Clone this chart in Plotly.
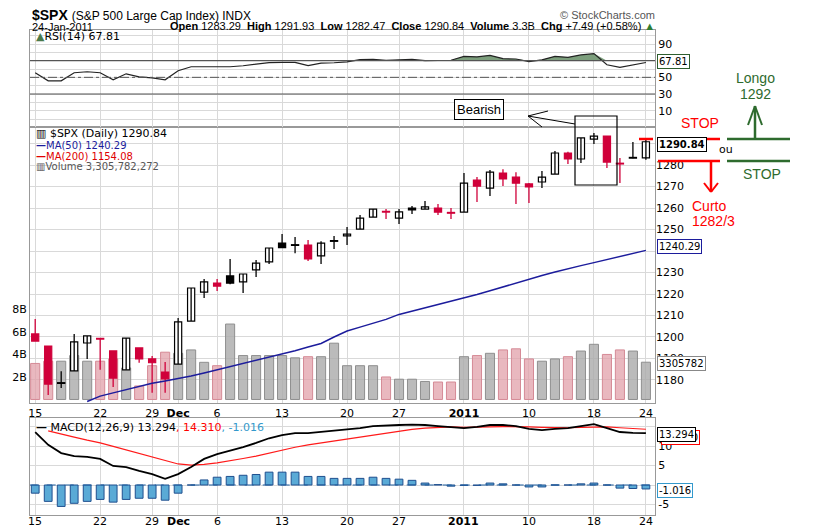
import plotly.graph_objects as go

# trading days, Nov 15 2010 .. Jan 24 2011 (index positions on the x axis)
dates = ["2010-11-15", "2010-11-16", "2010-11-17", "2010-11-18", "2010-11-19",
         "2010-11-22", "2010-11-23", "2010-11-24", "2010-11-26", "2010-11-29",
         "2010-11-30", "2010-12-01", "2010-12-02", "2010-12-03", "2010-12-06",
         "2010-12-07", "2010-12-08", "2010-12-09", "2010-12-10", "2010-12-13",
         "2010-12-14", "2010-12-15", "2010-12-16", "2010-12-17", "2010-12-20",
         "2010-12-21", "2010-12-22", "2010-12-23", "2010-12-27", "2010-12-28",
         "2010-12-29", "2010-12-30", "2010-12-31", "2011-01-03", "2011-01-04",
         "2011-01-05", "2011-01-06", "2011-01-07", "2011-01-10", "2011-01-11",
         "2011-01-12", "2011-01-13", "2011-01-14", "2011-01-18", "2011-01-19",
         "2011-01-20", "2011-01-21", "2011-01-24"]

opens = [1201.4, 1195.8, 1178.4, 1184.2, 1197.2, 1199.3, 1193.5, 1184.7, 1194.9, 1189.8,
         1183.7, 1187.4, 1207.4, 1220.9, 1225.1, 1228.4, 1225.6, 1231.2, 1234.9, 1243.7,
         1242.6, 1242.8, 1237.7, 1244.5, 1247.0, 1250.2, 1255.8, 1258.3, 1255.3, 1260.0,
         1259.5, 1260.0, 1257.8, 1258.1, 1273.0, 1269.3, 1276.3, 1274.4, 1271.2, 1272.1,
         1275.8, 1285.6, 1282.8, 1292.1, 1293.5, 1280.6, 1283.2, 1283.29]
highs = [1208.4, 1195.8, 1184.0, 1201.4, 1200.5, 1199.3, 1193.5, 1199.5, 1194.9, 1191.2,
         1188.4, 1208.8, 1222.8, 1227.0, 1227.0, 1236.3, 1229.3, 1235.8, 1241.4, 1247.9,
         1246.5, 1245.1, 1244.5, 1247.0, 1251.2, 1256.7, 1259.5, 1259.5, 1259.5, 1261.0,
         1263.3, 1261.9, 1260.0, 1276.3, 1274.4, 1277.7, 1278.1, 1276.7, 1271.6, 1277.2,
         1286.5, 1286.2, 1292.6, 1294.9, 1293.5, 1283.3, 1290.7, 1291.93]
lows = [1198.1, 1173.0, 1176.3, 1184.2, 1189.8, 1184.7, 1176.7, 1184.7, 1188.0, 1174.0,
        1174.0, 1187.4, 1207.4, 1218.1, 1221.4, 1224.5, 1220.5, 1227.9, 1234.0, 1241.4,
        1239.0, 1235.3, 1234.0, 1240.9, 1242.8, 1250.2, 1255.8, 1254.9, 1252.6, 1257.2,
        1259.5, 1256.7, 1254.9, 1258.1, 1262.8, 1265.6, 1270.2, 1261.9, 1262.3, 1269.3,
        1275.8, 1280.5, 1280.9, 1289.8, 1278.6, 1271.6, 1283.2, 1282.47]
closes = [1198.1, 1178.1, 1178.6, 1197.7, 1200.5, 1199.0, 1180.9, 1199.5, 1189.8, 1188.0,
          1180.5, 1207.0, 1222.8, 1225.6, 1223.7, 1225.1, 1229.3, 1234.4, 1241.4, 1241.6,
          1242.8, 1236.3, 1243.7, 1244.7, 1247.9, 1255.3, 1259.5, 1258.1, 1258.2, 1259.1,
          1260.5, 1258.1, 1257.6, 1271.6, 1270.2, 1276.7, 1273.5, 1271.6, 1269.8, 1274.4,
          1285.6, 1282.8, 1292.6, 1293.5, 1281.4, 1280.5, 1283.35, 1290.84]
volume_b = [3.2, 3.4, 3.4, 3.9, 3.4, 3.4, 3.6, 2.8, 1.2, 3.0,
            4.2, 4.1, 4.4, 3.3, 3.0, 6.7, 3.9, 3.9, 3.9, 3.9,
            3.7, 3.8, 3.8, 5.0, 3.0, 3.0, 3.0, 2.0, 1.8, 1.8,
            1.6, 1.55, 1.55, 3.8, 3.9, 4.1, 4.4, 4.5, 3.6, 3.4,
            3.6, 3.8, 4.3, 4.9, 4.0, 4.4, 4.3, 3.31]
ma50 = [None, None, None, None, 1170.0, 1172.5, 1174.0, 1175.5, 1177.0, 1178.5,
        1179.5, 1180.5, 1181.8, 1183.2, 1184.7, 1186.2, 1187.6, 1189.0, 1190.4, 1192.0,
        1193.6, 1195.3, 1197.0, 1200.0, 1202.8, 1204.6, 1206.4, 1208.2, 1210.5, 1212.0,
        1213.6, 1215.0, 1216.5, 1218.0, 1219.8, 1221.5, 1223.3, 1225.0, 1227.0, 1228.6,
        1230.2, 1231.8, 1233.2, 1234.6, 1236.0, 1237.5, 1238.8, 1240.29]
rsi = [55.5, 45.8, 45.8, 55.5, 56.7, 55.5, 47.0, 54.2, 50.6, 49.4,
       47.0, 57.9, 62.7, 62.7, 62.7, 62.7, 63.9, 65.5, 67.6, 68.0,
       68.0, 64.0, 67.0, 67.5, 68.5, 71.2, 71.5, 70.5, 71.0, 71.5,
       70.0, 70.0, 70.5, 75.2, 74.5, 76.4, 72.4, 72.0, 68.8, 71.0,
       75.2, 74.0, 76.9, 78.5, 65.1, 61.9, 64.8, 67.81]
macd = [13.6, 10.3, 8.2, 7.4, 7.2, 6.7, 4.9, 4.6, 3.6, 2.8,
        1.6, 2.8, 4.6, 6.7, 7.9, 8.7, 9.7, 10.8, 12.0, 12.8,
        13.3, 13.3, 13.6, 14.0, 14.2, 14.6, 15.1, 15.3, 15.4, 15.5,
        15.4, 15.1, 14.8, 14.6, 14.9, 15.4, 15.4, 15.1, 14.4, 14.1,
        14.4, 14.6, 15.1, 15.6, 14.6, 13.6, 13.4, 13.294]
signal = [None, 13.9, 13.0, 12.3, 11.5, 10.8, 9.9, 9.0, 8.1, 7.2,
          6.2, 5.4, 5.1, 5.3, 5.7, 6.2, 6.8, 7.4, 8.2, 9.0,
          9.7, 10.3, 10.8, 11.3, 11.8, 12.3, 12.9, 13.4, 13.9, 14.3,
          14.6, 14.8, 14.9, 14.8, 14.8, 14.9, 15.0, 15.0, 14.9, 14.8,
          14.7, 14.7, 14.8, 14.9, 14.9, 14.7, 14.5, 14.31]
hist = [-2.1, -4.2, -5.5, -4.7, -4.2, -3.7, -4.4, -3.7, -3.4, -3.4,
        -3.9, -2.1, 0.0, 1.3, 2.0, 2.2, 2.5, 2.7, 3.3, 3.3,
        3.3, 2.2, 2.2, 1.7, 1.7, 1.7, 2.0, 1.7, 1.5, 1.2,
        0.5, 0.1, -0.3, -0.1, -0.1, 0.5, 0.3, 0.0, -0.5, -0.5,
        0.0, 0.0, 0.3, 0.5, 0.0, -0.8, -0.9, -1.016]

tick_idx = [0, 5, 9, 11, 14, 19, 24, 28, 33, 38, 43, 47]
tick_txt = ["15", "22", "29", "<b>Dec</b>", "6", "13", "20", "27", "<b>2011</b>", "10", "18", "24"]

n = len(dates)
x = list(range(n))
RED = "#d0003a"


def px(v):
    return (v - 30) / 625


def py(v):
    return (515 - v) / 485


# candle colours: red when close below previous close, filled when close below open
is_red = [closes[0] < opens[0]] + [closes[i] < closes[i - 1] for i in range(1, n)]
filled = [closes[i] < opens[i] for i in range(n)]
line_col = [RED if r else "black" for r in is_red]
fill_col = [(RED if is_red[i] else "black") if filled[i] else "white" for i in range(n)]
vol_col = ["rgba(226,160,170,0.75)" if r else "rgba(170,170,170,0.8)" for r in is_red]
vol_line = ["#d58a96" if r else "#8f8f8f" for r in is_red]

fig = go.Figure()

# volume (base axis, drawn behind)
fig.add_trace(go.Bar(x=x, y=volume_b, xaxis="x2", yaxis="y2", width=0.7,
                     marker=dict(color=vol_col, line=dict(color=vol_line, width=1))))

# wicks
for want, col in [(True, RED), (False, "black")]:
    wx, wy = [], []
    for i in range(n):
        if is_red[i] == want:
            wx += [i, i, None]
            wy += [lows[i], highs[i], None]
    fig.add_trace(go.Scatter(x=wx, y=wy, xaxis="x2", yaxis="y3", mode="lines",
                             line=dict(color=col, width=1.3), hoverinfo="skip"))

body_lo = [min(opens[i], closes[i]) for i in range(n)]
body_h = [max(abs(closes[i] - opens[i]), 0.35) for i in range(n)]
fig.add_trace(go.Bar(x=x, y=body_h, base=body_lo, xaxis="x2", yaxis="y3", width=0.55,
                     marker=dict(color=fill_col, line=dict(color=line_col, width=1.2))))
fig.add_trace(go.Scatter(x=x, y=ma50, xaxis="x2", yaxis="y3", mode="lines",
                         line=dict(color="#1c1c9c", width=1.5)))

# RSI with green fill above 70
fig.add_trace(go.Scatter(x=x, y=[70] * n, xaxis="x3", yaxis="y4", mode="lines",
                         line=dict(color="rgba(0,0,0,0)", width=0), hoverinfo="skip"))
fig.add_trace(go.Scatter(x=x, y=[max(v, 70) for v in rsi], xaxis="x3", yaxis="y4",
                         mode="lines", fill="tonexty", fillcolor="#7c9e7c",
                         line=dict(color="rgba(0,0,0,0)", width=0), hoverinfo="skip"))
fig.add_trace(go.Scatter(x=x, y=rsi, xaxis="x3", yaxis="y4", mode="lines",
                         line=dict(color="#222", width=1.2)))

# MACD
fig.add_trace(go.Scatter(x=[-0.5, n - 0.5], y=[0, 0], mode="lines",
                         line=dict(color="#1f5f9f", width=1.2, dash="dash"), hoverinfo="skip"))
fig.add_trace(go.Bar(x=x, y=hist, width=0.6,
                     marker=dict(color="#5aaad6", line=dict(color="#1f4f8f", width=1))))
fig.add_trace(go.Scatter(x=x, y=signal, mode="lines", line=dict(color="#ff1a1a", width=1.2)))
fig.add_trace(go.Scatter(x=x, y=macd, mode="lines", line=dict(color="black", width=1.8)))

grid = "#d9d9d9"
xcommon = dict(range=[-0.4, 47.7], tickvals=tick_idx, ticktext=tick_txt, showgrid=True,
               gridcolor=grid, showline=True, mirror=True, linecolor="#999",
               ticks="", zeroline=False,
               automargin=False, tickfont=dict(size=11, color="black"))
ycommon = dict(automargin=False, zeroline=False, tickfont=dict(size=11))
# the page sits 8px in from the window corner, so margins are 8px smaller top/left
fig.update_layout(
    width=813, height=530, showlegend=False, barmode="overlay",
    paper_bgcolor="white", plot_bgcolor="white",
    margin=dict(l=22, r=166, t=22, b=23, autoexpand=False),
    font=dict(family="DejaVu Sans", size=11, color="black"),
    xaxis=dict(**{**xcommon, "showticklabels": False}, anchor="y"),
    xaxis2=dict(**xcommon, anchor="y2", matches="x"),
    xaxis3=dict(**{**xcommon, "showticklabels": False}, anchor="y4", matches="x"),
    yaxis=dict(**ycommon, domain=[0, 0.2], range=[-7.7, 17.2], side="right",
               tickvals=[-5, 0, 5, 10, 15], ticktext=["-5", "", "5", "10", ""], gridcolor=grid,
               showline=True, mirror=True, linecolor="#999"),
    yaxis2=dict(**ycommon, domain=[0.231, 0.8], range=[-0.31, 24.2], side="left",
                tickvals=[2, 4, 6, 8], ticktext=["2B", "4B", "6B", "8B"], showgrid=False,
                showline=True, mirror=True, linecolor="#999"),
    yaxis3=dict(**ycommon, overlaying="y2", range=[1169.3, 1297.7], side="right",
                tickvals=list(range(1180, 1300, 10)),
                ticktext=[str(v) if v not in (1240, 1290) else "" for v in range(1180, 1300, 10)],
                gridcolor=grid),
    yaxis4=dict(**ycommon, domain=[0.8, 1], range=[-9.6, 106.8], side="right",
                tickvals=list(range(0, 101, 10)),
                ticktext=[str(v) if v in (10, 30, 50, 90) else "" for v in range(0, 101, 10)],
                gridcolor=grid, showline=True, mirror=True, linecolor="#999"),
)

# RSI reference lines
fig.add_shape(type="line", xref="x3", yref="y4", x0=-0.4, x1=47.7, y0=70, y1=70,
              line=dict(color="#555", width=1.2))
fig.add_shape(type="line", xref="x3", yref="y4", x0=-0.4, x1=47.7, y0=30, y1=30,
              line=dict(color="#555", width=1.2))
fig.add_shape(type="line", xref="x3", yref="y4", x0=-0.4, x1=47.7, y0=50, y1=50,
              line=dict(color="#555", width=1, dash="dashdot"))

ann = []

# bottom date labels, placed closer to the panel than plotly's own tick labels
for i, t in zip(tick_idx, tick_txt):
    ann.append(dict(x=i, y=py(521), xref="x", yref="paper", text=t, showarrow=False,
                    xanchor="center", yanchor="middle", font=dict(size=11)))


def text(xp, yp, s, size=11, color="black", xa="left", fam=None, **kw):
    f = dict(size=size, color=color)
    if fam:
        f["family"] = fam
    ann.append(dict(x=px(xp), y=py(yp), xref="paper", yref="paper", text=s, showarrow=False,
                    xanchor=xa, yanchor="middle", font=f, **kw))


LS = "Liberation Sans"
text(30, 15, "<b>$SPX</b> <span style='font-size:12px'>(S&amp;P 500 Large Cap Index) INDX</span>",
     size=14, fam=LS)
text(30, 27, "24-Jan-2011", size=11, fam=LS)
text(657, 26, "<b>Open</b> 1283.29  <b>High</b> 1291.93  <b>Low</b> 1282.47  <b>Close</b> 1290.84  "
     "<b>Volume</b> 3.3B  <b>Chg</b> +7.49 (+0.58%) <span style='color:#2e7d32'>▲</span>",
     size=11, xa="right", fam=LS)
text(657, 15, "© StockCharts.com", size=11, color="#555", xa="right", fam=LS)
text(34, 37, "<span style='color:#4a7a4a'>▲</span>RSI(14) 67.81", size=11)
text(34, 133, "▥ $SPX (Daily) 1290.84", size=11)
text(34, 145, "<b>—</b>MA(50) 1240.29", size=10, color="#1c1c9c")
text(34, 156, "<b>—</b>MA(200) 1154.08", size=10, color="#e00000")
text(34, 166, "▥Volume 3,305,782,272", size=10, color="#555")
text(34, 427, "<b>—</b> MACD(12,26,9) 13.294<span style='color:red'>, 14.310</span>"
     "<span style='color:#3399cc'>, -1.016</span>", size=11)

# last-value boxes
text(657, 62, "67.81", size=10, bordercolor="#2e5e2e", bgcolor="white", borderpad=1)
text(657, 144, "<b>1290.84</b>", size=10, bordercolor="black", bgcolor="white", borderpad=1)
text(657, 247, "1240.29", size=10, bordercolor="#1c1c9c", bgcolor="white", borderpad=1)
text(657, 363, "3305782", size=10, bordercolor="#888", bgcolor="white", borderpad=1)
text(661, 437, "14.310", size=10, bordercolor="red", bgcolor="white", borderpad=1)
text(657, 434, "13.294", size=10, bordercolor="black", bgcolor="white", borderpad=1)
text(657, 490, "-1.016", size=10, bordercolor="#3399cc", bgcolor="white", borderpad=1)

# hand-drawn notes
text(479, 110, "Bearish", size=13, xa="center", bordercolor="black", bgcolor="white",
     borderpad=2, fam=LS)
text(700, 123, "STOP", size=14, color="red", xa="center", fam=LS)
text(690, 206, "Curto", size=14, color="red", xa="left", fam=LS)
text(690, 221, "1282/3", size=14, color="red", xa="left", fam=LS)
text(755, 78, "Longo", size=14, color="#2e6b2e", xa="center", fam=LS)
text(755, 94, "1292", size=14, color="#2e6b2e", xa="center", fam=LS)
text(726, 149, "ou", size=11, xa="center")
text(762, 174, "STOP", size=14, color="#2e6b2e", xa="center", fam=LS)
fig.update_layout(annotations=ann)


def seg(x0, y0, x1, y1, col, w=1.2):
    fig.add_shape(type="line", xref="paper", yref="paper", x0=px(x0), y0=py(y0),
                  x1=px(x1), y1=py(y1), line=dict(color=col, width=w))


seg(528, 116, 548, 111, "black", 1)
seg(528, 116, 542, 127, "black", 1)
seg(528, 116, 575, 124, "black", 1)
fig.add_shape(type="rect", xref="paper", yref="paper", x0=px(575), x1=px(617),
              y0=py(185), y1=py(116), line=dict(color="black", width=1.2))
seg(639, 139, 653, 139, "red", 2.5)
seg(700, 139, 720, 139, "red", 2.5)
seg(658, 161, 720, 161, "red", 2.5)
seg(711, 161, 711, 192, "red", 2.5)
seg(704, 183, 711, 192, "red", 2)
seg(718, 183, 711, 192, "red", 2)
seg(727, 139, 790, 139, "#2e6b2e", 2.5)
seg(727, 161, 790, 161, "#2e6b2e", 2.5)
seg(755, 139, 755, 106, "#2e6b2e", 2.5)
seg(748, 125, 755, 106, "#2e6b2e", 2)
seg(762, 125, 755, 106, "#2e6b2e", 2)

fig.write_html("out.html")
